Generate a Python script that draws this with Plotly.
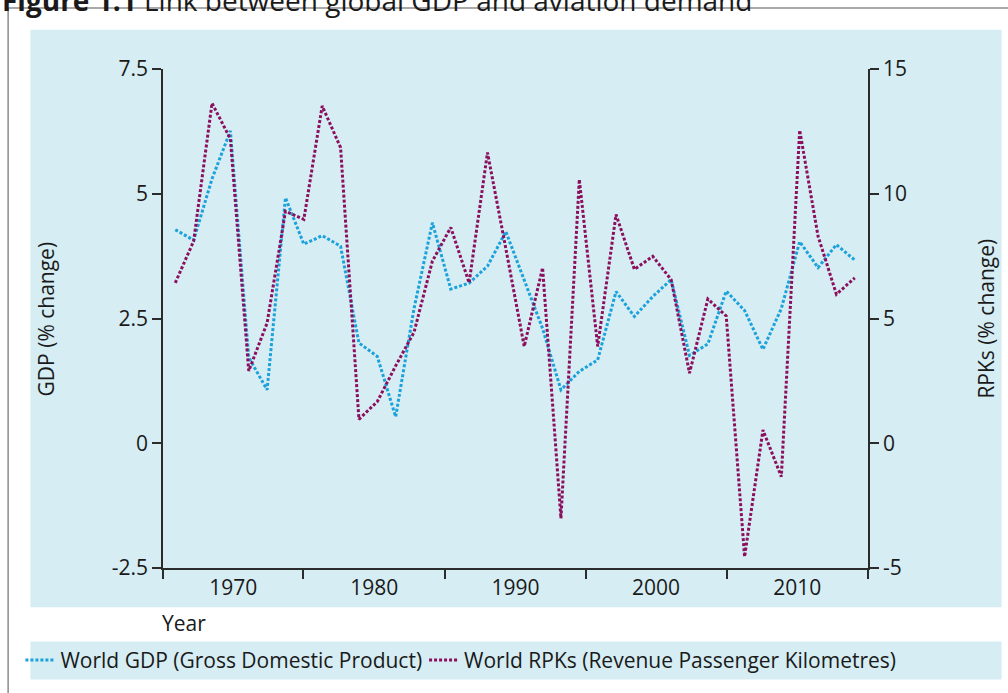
import plotly.graph_objects as go

# ---------------- data ----------------
point_index = list(range(38))
gdp_change = [4.28, 4.07, 5.30, 6.26, 1.72, 1.07, 4.92, 3.99, 4.16, 3.95,
              2.01, 1.74, 0.53, 2.70, 4.42, 3.09, 3.21, 3.55, 4.24, 3.28,
              2.30, 1.07, 1.44, 1.67, 3.04, 2.54, 2.94, 3.28, 1.76, 1.99,
              3.05, 2.66, 1.88, 2.70, 4.04, 3.52, 3.98, 3.67]
rpk_change = [6.43, 8.10, 13.63, 12.20, 2.90, 4.82, 9.30, 8.97, 13.52, 11.85,
              0.96, 1.67, 3.10, 4.45, 7.30, 8.65, 6.43, 11.65, 7.80, 3.88,
              7.03, -3.01, 10.57, 3.88, 9.17, 6.97, 7.49, 6.56, 2.81, 5.78,
              5.10, -4.55, 0.53, -1.34, 12.55, 8.30, 5.97, 6.63]
decade_labels = ["1970", "1980", "1990", "2000", "2010"]
decade_label_pos = [3.16, 10.84, 18.52, 26.18, 33.87]
decade_boundaries = [-0.669, 6.98, 14.69, 22.35, 30.02, 37.72]
gdp_ticks = [-2.5, 0, 2.5, 5, 7.5]
gdp_ticktext = ["-2.5", "0", "2.5", "5", "7.5"]
rpk_ticks = [-5, 0, 5, 10, 15]
rpk_ticktext = ["-5", "0", "5", "10", "15"]

# ---------------- layout geometry ----------------
W, H = 1008, 693
L, R, T, B = 162.7, 868.3, 69.3, 567.7
PW, PH = R - L, B - T


def px(xp):
    return (xp - L) / PW


def py(yp):
    return (B - yp) / PH


FONT = "Open Sans"
FS = 21
TXT = "#1a1a1a"
AX = "#2b2b2b"
PANEL = "#d5edf3"
GDP_C = "#1ba1dc"
RPK_C = "#8c0f5e"

fig = go.Figure()
fig.add_trace(go.Scatter(
    x=point_index, y=gdp_change, mode="lines",
    name="World GDP (Gross Domestic Product)",
    line=dict(color=GDP_C, width=3, dash="3px,2px"),
    yaxis="y", legend="legend"))
fig.add_trace(go.Scatter(
    x=point_index, y=rpk_change, mode="lines",
    name="World RPKs (Revenue Passenger Kilometres)",
    line=dict(color=RPK_C, width=3, dash="3px,2px"),
    yaxis="y2", legend="legend2"))

axis_common = dict(showgrid=False, zeroline=False, showline=True,
                   linecolor=AX, linewidth=1.5,
                   tickfont=dict(family=FONT, size=FS, color=TXT))

legend_common = dict(orientation="h", y=py(660), xanchor="left",
                     yanchor="middle", bgcolor="rgba(0,0,0,0)",
                     font=dict(family=FONT, size=FS, color=TXT))

fig.update_layout(
    width=W, height=H,
    margin=dict(l=L, r=W - R, t=T, b=H - B, pad=0, autoexpand=False),
    paper_bgcolor="white",
    plot_bgcolor=PANEL,
    showlegend=True,
    xaxis=dict(range=[decade_boundaries[0], decade_boundaries[-1]],
               tickmode="array", tickvals=decade_label_pos, ticktext=decade_labels,
               ticks="", ticklen=0,
               minor=dict(tickmode="array", tickvals=decade_boundaries,
                          ticks="outside", ticklen=9, tickwidth=1.5, tickcolor=AX),
               **axis_common),
    yaxis=dict(range=[-2.5, 7.5], tickmode="array", tickvals=gdp_ticks,
               ticktext=gdp_ticktext, ticks="outside", ticklen=9,
               tickwidth=1.5, tickcolor=AX, **axis_common),
    yaxis2=dict(range=[-5, 15], tickmode="array", tickvals=rpk_ticks,
                ticktext=rpk_ticktext, ticks="outside", ticklen=9,
                tickwidth=1.5, tickcolor=AX, overlaying="y", side="right",
                **axis_common),
    legend=dict(x=px(20), **legend_common),
    legend2=dict(x=px(424), **legend_common),
)

shapes = [
    # chart panel
    dict(type="rect", xref="paper", yref="paper", x0=px(30), x1=px(1002),
         y0=py(607), y1=py(30), fillcolor=PANEL, line=dict(width=0),
         layer="below"),
    # legend band
    dict(type="rect", xref="paper", yref="paper", x0=px(30), x1=px(1002),
         y0=py(679), y1=py(641), fillcolor=PANEL, line=dict(width=0),
         layer="below"),
    # outer frame (left and top edges)
    dict(type="line", xref="paper", yref="paper", x0=px(7.7), x1=px(7.7),
         y0=py(8.3), y1=py(700), line=dict(color="#8c8c8c", width=1.5)),
    dict(type="line", xref="paper", yref="paper", x0=px(7.7), x1=px(1010),
         y0=py(8.3), y1=py(8.3), line=dict(color="#8c8c8c", width=1.5)),
]
fig.update_layout(shapes=shapes)

annotations = [
    dict(text="<b>Figure 1.1</b> Link between global GDP and aviation demand",
         xref="paper", yref="paper", x=px(0), y=py(0), xanchor="left",
         yanchor="middle", showarrow=False,
         font=dict(family=FONT, size=28, color=TXT)),
    dict(text="GDP (% change)", xref="paper", yref="paper", x=px(46),
         y=py(319), xanchor="center", yanchor="middle", textangle=-90,
         showarrow=False, font=dict(family=FONT, size=FS, color=TXT)),
    dict(text="RPKs (% change)", xref="paper", yref="paper", x=px(986),
         y=py(319), xanchor="center", yanchor="middle", textangle=-90,
         showarrow=False, font=dict(family=FONT, size=FS, color=TXT)),
    dict(text="Year", xref="paper", yref="paper", x=px(160), y=py(623),
         xanchor="left", yanchor="middle", showarrow=False,
         font=dict(family=FONT, size=FS, color=TXT)),
]
fig.update_layout(annotations=annotations)

fig.write_html(
    "out.html",
    config={"displayModeBar": False},
    post_script="document.body.style.margin='0';document.body.style.padding='0';",
)
